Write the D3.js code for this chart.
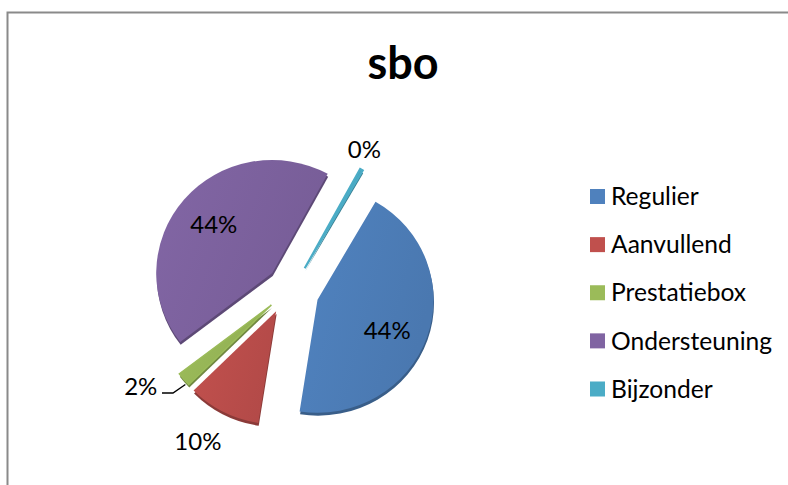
<!DOCTYPE html>
<html>
<head>
<meta charset="utf-8">
<script src="https://cdn.jsdelivr.net/npm/d3@7"></script>
<style>
  body { margin: 0; background: #fff; }
  text { font-family: Lato, "Open Sans", sans-serif; fill: #000; }
</style>
</head>
<body>
<svg id="pie-chart-svg" width="788" height="485"></svg>
<script>
const categories = ["Regulier", "Aanvullend", "Prestatiebox", "Ondersteuning", "Bijzonder"];
const shares = [44.4, 10.2, 2.0, 43.6, 0.4];
const chartTitle = "sbo";

const palette = ["#4f81bd", "#c0504d", "#9bbb59", "#8064a2", "#4bacc6"];

const svg = d3.select("#pie-chart-svg");
const width = +svg.attr("width");
const height = +svg.attr("height");

const color = d3.scaleOrdinal().domain(categories).range(palette);
const percent = v => `${d3.format(".0f")(v)}%`;

// Frame, only top and left are visible in the crop
svg.append("path")
  .attr("d", `M7.5,${height} V12.5 H${width}`)
  .attr("fill", "none")
  .attr("stroke", "#8a8a8a")
  .attr("stroke-width", 2);

svg.append("text")
  .attr("x", 403)
  .attr("y", 79)
  .attr("text-anchor", "middle")
  .style("font-size", "45px")
  .style("font-weight", "bold")
  .text(chartTitle);

// Pie
const cx = 294, cy = 290, radius = 116, explode = 26;
const g = svg.append("g").attr("transform", `translate(${cx},${cy})`);

const pie = d3.pie()
  .sort(null)
  .startAngle(Math.PI / 6)
  .endAngle(Math.PI / 6 + 2 * Math.PI)
  .value(d => d.share);

const arc = d3.arc().innerRadius(0).outerRadius(radius);

const data = categories.map((name, i) => ({ name, share: shares[i] }));
const arcs = pie(data);

// Point at distance r from the pie centre along the middle of a slice
const polar = (d, r) => {
  const a = (d.startAngle + d.endAngle) / 2;
  return [r * Math.sin(a), -r * Math.cos(a)];
};

const defs = svg.append("defs");
arcs.forEach((d, i) => {
  const base = d3.color(color(d.data.name));
  const grad = defs.append("linearGradient")
    .attr("id", `shade-${i}`)
    .attr("x1", "0").attr("y1", "0").attr("x2", "1").attr("y2", "0.4");
  grad.append("stop").attr("offset", "0%").attr("stop-color", base.brighter(0.05));
  grad.append("stop").attr("offset", "100%").attr("stop-color", base.darker(0.2));
});

// the original pie is tilted a little, so slices sit slightly off a pure explode
const sliceShift = [[-1, 1], [-6, -2], [-3, -2], [-2, 0], [-2, 1]];
const thinEdge = [0, 0, 1.5, 0, 2.2];

const slices = g.selectAll("g.slice")
  .data(arcs)
  .enter()
  .append("g")
  .attr("class", "slice")
  .attr("transform", (d, i) => {
    const [x, y] = polar(d, explode);
    return `translate(${x + sliceShift[i][0]},${y + sliceShift[i][1]}) scale(1,0.975)`;
  });

// darker copy underneath gives the bevel edge
slices.append("path")
  .attr("d", arc)
  .attr("transform", "translate(0.5,3)")
  .attr("fill", d => d3.color(color(d.data.name)).darker(0.9));

slices.append("path")
  .attr("d", arc)
  .attr("fill", (d, i) => `url(#shade-${i})`)
  .attr("stroke", d => color(d.data.name))
  .attr("stroke-width", (d, i) => thinEdge[i]);

// Labels: distance from the centre, then a small nudge
const labelRadius = [102, 180, 182, 103, 156];
const labelNudge = [[-3, 7], [-14, -9], [-16, -23], [-2, 2], [-6, -4]];

g.selectAll("text.pct")
  .data(arcs)
  .enter()
  .append("text")
  .attr("class", "pct")
  .attr("transform", (d, i) => {
    const [x, y] = polar(d, labelRadius[i]);
    return `translate(${x + labelNudge[i][0]},${y + labelNudge[i][1]})`;
  })
  .attr("text-anchor", "middle")
  .attr("dy", "0.35em")
  .style("font-size", "24px")
  .text(d => percent(d.data.share));

// Leader line for the small slice
const tip = polar(arcs[2], 144);
svg.append("path")
  .attr("d", d3.line()([[162, 393], [173, 393], [cx + tip[0], cy + tip[1]]]))
  .attr("fill", "none")
  .attr("stroke", "#000")
  .attr("stroke-width", 1.4);

// Legend
const rowY = d3.scalePoint().domain(categories).range([196.5, 389]);
const swatch = 15;

const legend = svg.selectAll("g.legend")
  .data(categories)
  .enter()
  .append("g")
  .attr("class", "legend")
  .attr("transform", d => `translate(590,${rowY(d)})`);

legend.append("rect")
  .attr("y", -swatch / 2)
  .attr("width", swatch)
  .attr("height", swatch)
  .attr("fill", d => color(d));

legend.append("text")
  .attr("x", 21)
  .attr("dy", "0.35em")
  .style("font-size", "24.6px")
  .text(d => d);
</script>
</body>
</html>
